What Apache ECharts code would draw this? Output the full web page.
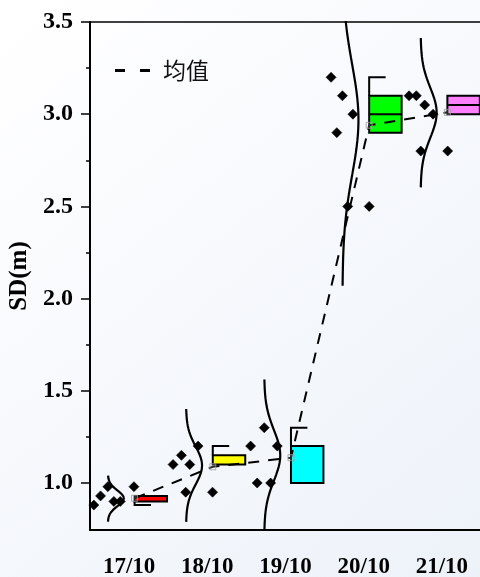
<!DOCTYPE html>
<html>
<head>
<meta charset="utf-8">
<script src="https://cdn.jsdelivr.net/npm/echarts@6/dist/echarts.min.js"></script>
<style>html,body{margin:0;padding:0;}#c{width:480px;height:577px;}</style>
</head>
<body>
<div id="c"></div>
<script>
// ---- data ----
const categories = ['17/10', '18/10', '19/10', '20/10', '21/10'];
const pointValues = [
  [0.88, 0.93, 0.98, 0.90, 0.90, 0.98],
  [1.10, 1.15, 1.10, 1.20, 0.95, 0.95],
  [1.20, 1.30, 1.20, 1.00, 1.00],
  [3.20, 3.10, 3.00, 2.90, 2.50, 2.50],
  [3.10, 3.10, 3.05, 3.00, 2.80, 2.80]
];
const meanValues = [0.917, 1.088, 1.137, 2.94, 3.01];
const boxLow = [0.90, 1.10, 1.00, 2.90, 3.00];
const boxHigh = [0.93, 1.15, 1.20, 3.10, 3.10];
const boxMedian = [null, null, null, 3.00, 3.05];
const whiskerEnd = [0.88, 1.20, 1.30, 3.20, null];
const curveCenter = [0.917, 1.095, 1.15, 2.97, 3.008];
const curveSigma = [0.042, 0.102, 0.137, 0.30, 0.135];
const yTickLabels = [1.0, 1.5, 2.0, 2.5, 3.0, 3.5];
const yMinorTicks = [1.25, 1.75, 2.25, 2.75, 3.25];

// ---- layout / style constants (not data) ----
const jitter = [
  [-0.451, -0.365, -0.272, -0.195, -0.113, 0.062],
  [-0.438, -0.331, -0.224, -0.118, -0.276, 0.067],
  [-0.446, -0.272, -0.105, -0.362, -0.190],
  [-0.417, -0.272, -0.138, -0.344, -0.204, 0.070],
  [-0.420, -0.327, -0.220, -0.113, -0.270, 0.074]
];
const boxColors = ['#ff0000', '#ffff00', '#00ffff', '#00ff00', '#ff80ff'];
const BOX_L = 0.07, BOX_R = 0.485, CAP = 0.21;
const CURVE_BASE = -0.272, CURVE_AMP = 0.205;
const SERIF = '"Liberation Serif", "Times New Roman", serif';

// scatter points
const scatterData = [];
pointValues.forEach((arr, i) => arr.forEach((v, j) => scatterData.push([i + jitter[i][j], v])));

// distribution curves (normal curves of the read centre / spread, +-3 sigma)
const curveSeries = categories.map((c, i) => {
  const pts = [];
  const n = 80;
  for (let k = 0; k <= n; k++) {
    const z = -3 + 6 * k / n;
    const y = curveCenter[i] + z * curveSigma[i];
    pts.push([i + CURVE_BASE + CURVE_AMP * Math.exp(-0.5 * z * z), y]);
  }
  return {
    type: 'line', xAxisIndex: 1, yAxisIndex: 0, data: pts, symbol: 'none', silent: true,
    lineStyle: { color: '#000', width: 2.2 }, z: 3, clip: true
  };
});

const boxData = categories.map((c, i) => [i, boxLow[i], boxHigh[i],
  boxMedian[i] == null ? NaN : boxMedian[i], whiskerEnd[i] == null ? NaN : whiskerEnd[i]]);

const meanData = meanValues.map((v, i) => [i + BOX_L, v]);

const chart = echarts.init(document.getElementById('c'));
chart.setOption({
  animation: false,
  backgroundColor: {
    type: 'linear', x: 0, y: 0, x2: 1, y2: 1,
    colorStops: [{ offset: 0, color: '#ffffff' }, { offset: 1, color: '#edf2f9' }]
  },
  grid: { left: 90, top: 22, right: -1, bottom: 47, containLabel: false, outerBoundsMode: 'none' },
  legend: {
    data: [{ name: '均值', icon: 'path://M0,0 H10 V3 H0 Z M25,0 H35 V3 H25 Z' }],
    left: 110, top: 54, itemWidth: 35, itemHeight: 3,
    itemStyle: { color: '#000' },
    textStyle: { fontFamily: '"Noto Sans CJK SC"', fontSize: 23, color: '#111', padding: [0, 0, 0, 8] }
  },
  xAxis: [
    {
      type: 'category', data: categories, position: 'bottom',
      axisLine: { onZero: false, lineStyle: { color: '#000', width: 2 } },
      axisTick: { alignWithLabel: true, length: 9, lineStyle: { color: '#000', width: 1.5 } },
      axisLabel: { color: '#000', fontFamily: SERIF, fontWeight: 'bold', fontSize: 23, margin: 26 },
      splitLine: { show: false }
    },
    {
      type: 'value', min: -0.5, max: 4.5, position: 'top',
      axisLine: { show: true, onZero: false, lineStyle: { color: '#000', width: 1.5 } },
      axisTick: { show: false }, axisLabel: { show: false }, splitLine: { show: false }
    }
  ],
  yAxis: [
    {
      type: 'value', min: 0.745, max: 3.5,
      name: 'SD(m)', nameLocation: 'middle', nameGap: 52,
      nameTextStyle: { color: '#000', fontFamily: SERIF, fontWeight: 'bold', fontSize: 25 },
      axisLine: { show: true, onZero: false, lineStyle: { color: '#000', width: 2 } },
      axisTick: { show: true, length: 9, customValues: yTickLabels, lineStyle: { color: '#000', width: 1.5 } },
      axisLabel: { customValues: yTickLabels, formatter: v => v.toFixed(1), color: '#000',
        fontFamily: SERIF, fontWeight: 'bold', fontSize: 24, margin: 17 },
      splitLine: { show: false }
    },
    {
      type: 'value', min: 0.745, max: 3.5, position: 'left',
      axisLine: { show: false, onZero: false },
      axisTick: { show: true, length: 4, customValues: yMinorTicks, lineStyle: { color: '#000', width: 1.5 } },
      axisLabel: { show: false }, splitLine: { show: false }
    }
  ],
  series: [
    {
      type: 'custom', xAxisIndex: 1, yAxisIndex: 0, data: boxData, z: 2, silent: true,
      renderItem: function (params, api) {
        const i = api.value(0), lo = api.value(1), hi = api.value(2), med = api.value(3), wk = api.value(4);
        const pTL = api.coord([i + BOX_L, hi]);
        const pBR = api.coord([i + BOX_R, lo]);
        const children = [{
          type: 'rect',
          shape: { x: pTL[0], y: pTL[1], width: pBR[0] - pTL[0], height: pBR[1] - pTL[1] },
          style: { fill: boxColors[params.dataIndex], stroke: '#000', lineWidth: 2 }
        }];
        if (!isNaN(med)) {
          const a = api.coord([i + BOX_L, med]), b = api.coord([i + BOX_R, med]);
          children.push({ type: 'line', shape: { x1: a[0], y1: a[1], x2: b[0], y2: b[1] },
            style: { stroke: '#000', lineWidth: 2 } });
        }
        if (!isNaN(wk)) {
          const base = wk > hi ? hi : lo;
          const pa = api.coord([i + BOX_L, base]), pb = api.coord([i + BOX_L, wk]), pc = api.coord([i + BOX_L + CAP, wk]);
          children.push({ type: 'polyline', shape: { points: [pa, pb, pc] },
            style: { stroke: '#000', lineWidth: 2, fill: null } });
        }
        return { type: 'group', children: children };
      }
    },
    ...curveSeries,
    {
      name: '均值', type: 'line', xAxisIndex: 1, yAxisIndex: 0, data: meanData, symbol: 'none', z: 4,
      lineStyle: { color: '#000', width: 2, type: [11, 9] }, itemStyle: { color: '#000' }
    },
    {
      type: 'scatter', xAxisIndex: 1, yAxisIndex: 0, data: meanData, symbol: 'rect', symbolSize: 6, z: 5,
      itemStyle: { color: 'rgba(255,255,255,0.2)', borderColor: '#9a9a9a', borderWidth: 1 }
    },
    {
      type: 'scatter', xAxisIndex: 1, yAxisIndex: 0, data: scatterData, symbol: 'diamond', symbolSize: 10, z: 6,
      itemStyle: { color: '#000', borderColor: '#000', borderWidth: 0.6, opacity: 1 }
    }
  ]
});
</script>
</body>
</html>
